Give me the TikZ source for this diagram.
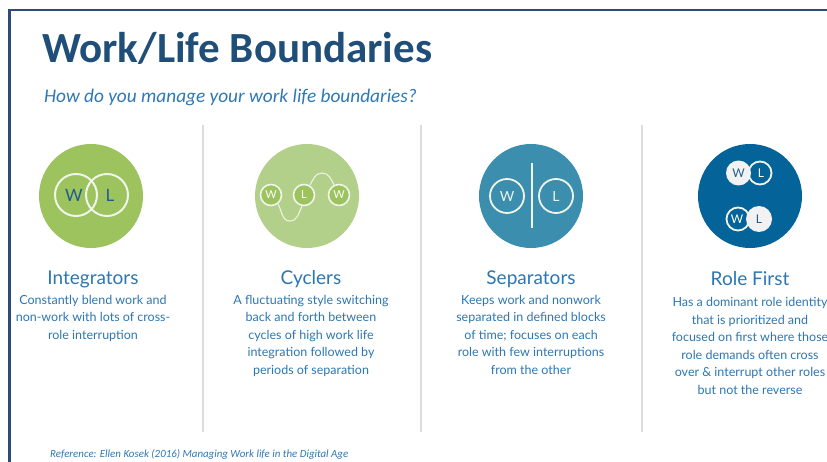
\documentclass[tikz,border=0pt]{standalone}
\usepackage{fontspec}
\setmainfont{Lato}
\newfontfamily\calib{Carlito}
\definecolor{framec}{HTML}{2E4A7A}
\definecolor{titlec}{HTML}{1F4E79}
\definecolor{subc}{HTML}{2F78B4}
\definecolor{headc}{HTML}{2C77B3}
\definecolor{sepc}{HTML}{DCDCDC}
\definecolor{g1}{HTML}{9CC35E}
\definecolor{g2}{HTML}{B2D08A}
\definecolor{teal}{HTML}{3B8EAD}
\definecolor{dblue}{HTML}{04649A}
\definecolor{ringc}{HTML}{F0F5EA}
\definecolor{letc}{HTML}{1E5D8F}
\definecolor{offw}{HTML}{F2F2F2}
\begin{document}
\begin{tikzpicture}[x=1pt,y=-1pt,
  heading/.style={font=\fontsize{19}{22}\selectfont, text=headc, anchor=base, inner sep=0pt},
  desc/.style={font=\fontsize{12.5}{17.5}\selectfont, text=headc, align=center, anchor=base, inner sep=0pt},
  bigdisc/.style={circle, minimum size=104pt, inner sep=0pt},
  ring/.style={draw=ringc, line width=2pt, circle, inner sep=0pt},
  letter/.style={inner sep=0pt},
  sepline/.style={draw=sepc, line width=1.5pt}]
\useasboundingbox (0,0) rectangle (827,462);
\clip (0,0) rectangle (827,462);
\fill[white] (0,0) rectangle (827,462);
% frame
\draw[framec, line width=2.8pt] (9.5,470) -- (9.5,10) -- (840,10);
% title
\node[anchor=base west, inner sep=0pt, font=\calib\bfseries\fontsize{43}{50}\selectfont, text=titlec] (title) at (42,63) {Work/Life Boundaries};
\node[anchor=base west, inner sep=0pt, font=\calib\itshape\fontsize{19.3}{24}\selectfont, text=subc] (sub) at (44,103) {How do you manage your work life boundaries?};
% separators
\draw[sepline] (203,125) -- (203,432);
\draw[sepline] (421,125) -- (421,432);
\draw[sepline] (642,125) -- (642,432);
% discs
\node[bigdisc, fill=g1] (d1) at (91,196) {};
\node[bigdisc, fill=g2] (d2) at (307,196) {};
\node[bigdisc, fill=teal] (d3) at (531,196) {};
\node[bigdisc, fill=dblue] (d4) at (750,196) {};
% icon 1
\node[ring, minimum size=42pt] (i1w) at (76,195) {};
\node[ring, minimum size=42pt] (i1l) at (107,195) {};
\node[letter, text=letc, font=\fontsize{17}{20}\selectfont] at (74,195) {W};
\node[letter, text=letc, font=\fontsize{17}{20}\selectfont] at (110,195) {L};
% icon 2
\draw[ringc, line width=1pt] (278,204) to[out=-60,in=180] (290,221) to[out=0,in=-115] (302,206);
\draw[ringc, line width=1pt] (310,185) to[out=60,in=180] (322,173) to[out=0,in=115] (334,185);
\node[ring, fill=g1, line width=1.6pt, minimum size=21pt, text=white, font=\fontsize{11}{12}\selectfont] (c1) at (271,195) {W};
\node[ring, fill=g1, line width=1.6pt, minimum size=21pt, text=white, font=\fontsize{11}{12}\selectfont] (c2) at (304,195) {L};
\node[ring, fill=g1, line width=1.6pt, minimum size=21pt, text=white, font=\fontsize{11}{12}\selectfont] (c3) at (339,195) {W};
% icon 3
\draw[ringc, line width=1.8pt] (532,163) -- (532,228);
\node[ring, line width=1.8pt, minimum size=34pt, text=ringc, font=\fontsize{14}{16}\selectfont] (s1) at (507,196) {W};
\node[ring, line width=1.8pt, minimum size=34pt, text=ringc, font=\fontsize{14}{16}\selectfont] (s2) at (556,196) {L};
% icon 4
\node[ring, line width=1.8pt, minimum size=23pt, text=white, font=\fontsize{12}{14}\selectfont] (r1l) at (760,173) {\hspace*{2pt}L};
\node[circle, fill=offw, minimum size=25pt, inner sep=0pt, text=letc, font=\fontsize{12}{14}\selectfont] (r1w) at (738.5,173) {W};
\node[ring, line width=1.8pt, minimum size=23pt, text=white, font=\fontsize{12}{14}\selectfont] (r2w) at (738,219) {W\hspace*{2pt}};
\node[circle, fill=offw, minimum size=26pt, inner sep=0pt, text=letc, font=\fontsize{12}{14}\selectfont] (r2l) at (759,219) {L};
% headings
\node[heading] (h1) at (93,285) {Integrators};
\node[heading] (h2) at (311,285) {Cyclers};
\node[heading] (h3) at (531,285) {Separators};
\node[heading] (h4) at (750,286) {Role First};
% descriptions (anchor base = baseline of the last line)
\node[desc] (t1) at (93,339) {Constantly blend work and\\non-work with lots of cross-\\role interruption};
\node[desc] (t2) at (311,374) {A fluctuating style switching\\back and forth between\\cycles of high work life\\integration followed by\\periods of separation};
\node[desc] (t3) at (531,374) {Keeps work and nonwork\\separated in defined blocks\\of time; focuses on each\\role with few interruptions\\from the other};
\node[desc] (t4) at (750,394) {Has a dominant role identity\\that is prioritized and\\focused on first where those\\role demands often cross\\over \& interrupt other roles\\but not the reverse};
% reference
\node[anchor=base west, inner sep=0pt, font=\calib\itshape\fontsize{10.9}{12}\selectfont, text=subc] (ref) at (50,457) {Reference: Ellen Kosek (2016) Managing Work life in the Digital Age};
\end{tikzpicture}
\end{document}
